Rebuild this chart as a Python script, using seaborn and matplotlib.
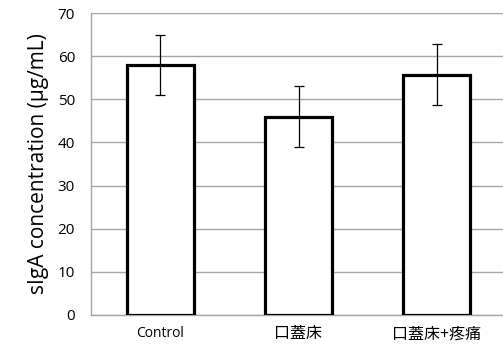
import pandas as pd
import seaborn as sns
import matplotlib.pyplot as plt

# data
groups = ["Control", "口蓋床", "口蓋床+疼痛"]
means = [58.0, 46.0, 55.7]
errors = [7.0, 7.0, 7.1]
y_ticks = [0, 10, 20, 30, 40, 50, 60, 70]

df = pd.DataFrame({"group": groups, "siga": means})

sns.set_style("white")
plt.rcParams["font.family"] = ["Open Sans", "Noto Sans CJK JP", "DejaVu Sans"]
plt.rcParams["text.color"] = "black"
plt.rcParams["axes.labelcolor"] = "black"
plt.rcParams["xtick.labelcolor"] = "black"
plt.rcParams["ytick.labelcolor"] = "black"

fig = plt.figure(figsize=(5.03, 3.47), dpi=100)
ax = fig.add_axes([91 / 503, (347 - 315) / 347, 415 / 503, 302 / 347])

sns.barplot(data=df, x="group", y="siga", ax=ax, color="white",
            edgecolor="black", linewidth=2.3, width=0.485, errorbar=None,
            zorder=3)
ax.errorbar(range(len(groups)), means, yerr=errors, fmt="none",
            ecolor="black", elinewidth=0.9, capsize=3.5, capthick=0.9,
            zorder=4)

ax.set_ylim(0, 70)
ax.set_xlim(-0.5, 2.5)
ax.set_yticks(y_ticks)
ax.yaxis.grid(True, color="#a6a6a6", linewidth=1.0, zorder=0)
ax.set_axisbelow(True)

# category ticks sit on the boundaries between groups
ax.set_xticks([-0.5, 0.5, 1.5], minor=True)
ax.set_xticks(range(len(groups)))
ax.set_xticklabels(groups)
for lab in ax.get_xticklabels():
    lab.set_fontsize(10 if lab.get_text() == "Control" else 11.5)
ax.tick_params(axis="x", which="major", length=0, pad=8)
ax.tick_params(axis="x", which="minor", length=4, color="#a6a6a6", width=1)
ax.tick_params(axis="y", length=4.5, color="#a6a6a6", width=1, labelsize=11,
               pad=7)

for side in ["top", "right"]:
    ax.spines[side].set_visible(False)
for side in ["left", "bottom"]:
    ax.spines[side].set_color("#a6a6a6")
    ax.spines[side].set_linewidth(1)

ax.set_xlabel("")
ax.set_ylabel("sIgA concentration (µg/mL)", fontsize=15, labelpad=6)

fig.savefig("out.png", dpi=100)
